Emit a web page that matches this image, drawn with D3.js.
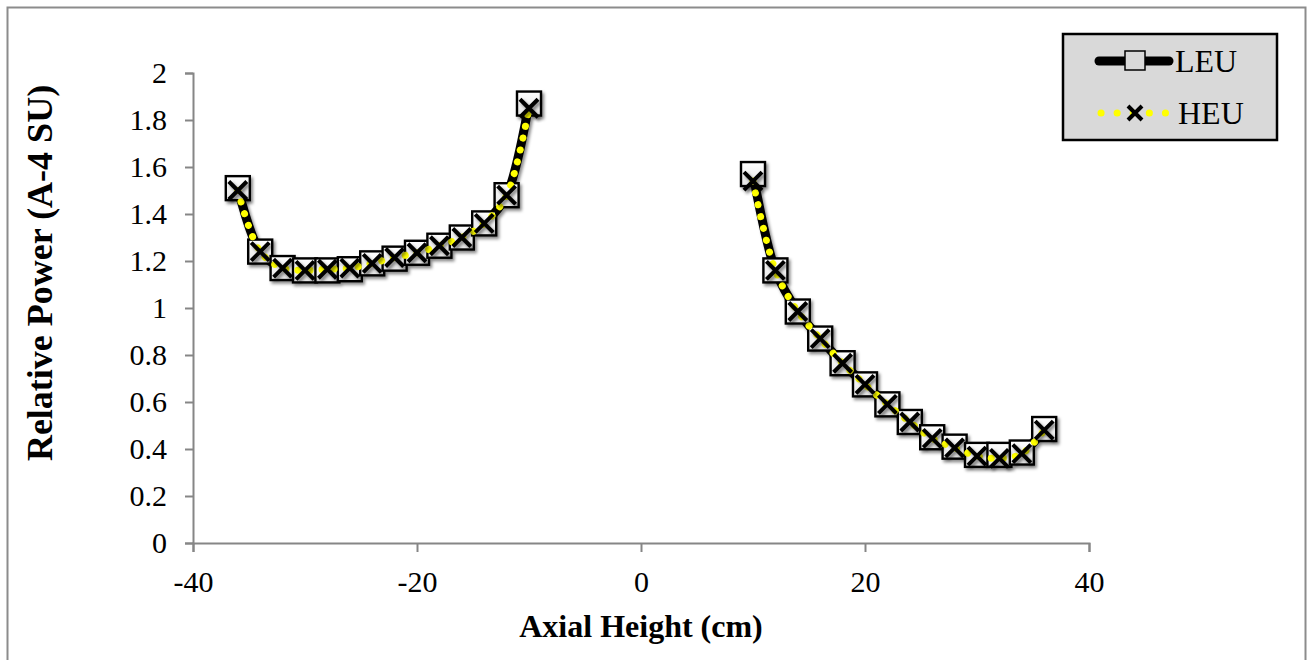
<!DOCTYPE html>
<html>
<head>
<meta charset="utf-8">
<script src="https://cdn.jsdelivr.net/npm/d3@7"></script>
<style>
  body { margin: 0; background: #fff; }
  text { font-family: "Liberation Serif", "Times New Roman", serif; }
</style>
</head>
<body>
<div id="chart"></div>
<script>
// axial positions (cm), the two fuel regions
var axialHeight = [-36, -34, -32, -30, -28, -26, -24, -22, -20, -18, -16, -14, -12, -10,
                   10, 12, 14, 16, 18, 20, 22, 24, 26, 28, 30, 32, 34, 36];
var leuPower = [1.51, 1.24, 1.17, 1.16, 1.16, 1.165, 1.19, 1.21, 1.235, 1.265, 1.30, 1.36, 1.48, 1.87,
                1.57, 1.16, 0.985, 0.87, 0.765, 0.675, 0.59, 0.515, 0.45, 0.41, 0.375, 0.375, 0.385, 0.485];
var heuPower = [1.50, 1.24, 1.17, 1.16, 1.165, 1.17, 1.19, 1.215, 1.235, 1.265, 1.30, 1.36, 1.48, 1.85,
                1.54, 1.16, 0.985, 0.87, 0.765, 0.675, 0.59, 0.515, 0.445, 0.405, 0.37, 0.36, 0.38, 0.48];
var xTicks = [-40, -20, 0, 20, 40];
var yTicks = [0, 0.2, 0.4, 0.6, 0.8, 1, 1.2, 1.4, 1.6, 1.8, 2];

var width = 1308, height = 660;
var margin = { left: 193, right: 1089, top: 73, bottom: 543 };

var svg = d3.select("#chart").append("svg")
    .attr("width", width)
    .attr("height", height);

var defs = svg.append("defs");
var shadow = defs.append("filter").attr("id", "shadow")
    .attr("x", "-30%").attr("y", "-30%").attr("width", "160%").attr("height", "160%");
shadow.append("feDropShadow")
    .attr("dx", 2).attr("dy", 2.5).attr("stdDeviation", 1.8)
    .attr("flood-color", "#000").attr("flood-opacity", 0.45);

var grad = defs.append("linearGradient").attr("id", "boxfill")
    .attr("x1", 0).attr("y1", 0).attr("x2", 0).attr("y2", 1);
grad.append("stop").attr("offset", "0%").attr("stop-color", "#ffffff");
grad.append("stop").attr("offset", "100%").attr("stop-color", "#e4e4e4");

// outer frame
svg.append("rect")
    .attr("x", 7.5).attr("y", 7.5)
    .attr("width", 1298).attr("height", 680)
    .attr("fill", "#fff")
    .attr("stroke", "#8c8c8c")
    .attr("stroke-width", 2);

var x = d3.scaleLinear().domain([-40, 40]).range([margin.left, margin.right]);
var y = d3.scaleLinear().domain([0, 2]).range([margin.bottom, margin.top]);

// axes
var yAxis = svg.append("g")
    .attr("transform", "translate(" + margin.left + ",0)")
    .call(d3.axisLeft(y).tickValues(yTicks).tickSize(8).tickPadding(18)
        .tickFormat(function (d) { return String(+d.toFixed(1)); }));
var xAxis = svg.append("g")
    .attr("transform", "translate(0," + margin.bottom + ")")
    .call(d3.axisBottom(x).tickValues(xTicks).tickSize(9).tickPadding(19)
        .tickFormat(function (d) { return String(d); }));

[xAxis, yAxis].forEach(function (ax) {
    ax.attr("font-family", "'Liberation Serif', serif").attr("font-size", 30);
    ax.select(".domain").attr("stroke", "#868686").attr("stroke-width", 2);
    ax.selectAll(".tick line").attr("stroke", "#868686").attr("stroke-width", 2);
    ax.selectAll(".tick text").attr("fill", "#000");
});

// titles
svg.append("text")
    .attr("x", 641).attr("y", 637)
    .attr("text-anchor", "middle")
    .style("font-size", "32px").style("font-weight", "bold")
    .text("Axial Height (cm)");

svg.append("text")
    .attr("transform", "translate(52,273) rotate(-90)")
    .attr("text-anchor", "middle")
    .style("font-size", "36px").style("font-weight", "bold")
    .text("Relative Power (A-4 SU)");

// series data split into the two regions
function segments(values) {
    var pts = axialHeight.map(function (h, i) { return { x: h, y: values[i] }; });
    return [pts.filter(function (p) { return p.x < 0; }),
            pts.filter(function (p) { return p.x > 0; })];
}
var leuSeg = segments(leuPower);
var heuSeg = segments(heuPower);

var line = d3.line()
    .x(function (d) { return x(d.x); })
    .y(function (d) { return y(d.y); })
    .curve(d3.curveCatmullRom.alpha(0.5));

var plot = svg.append("g").attr("filter", "url(#shadow)");

// LEU line
plot.selectAll(".leu-line").data(leuSeg).enter().append("path")
    .attr("class", "leu-line")
    .attr("d", line)
    .attr("fill", "none")
    .attr("stroke", "#000")
    .attr("stroke-width", 9)
    .attr("stroke-linejoin", "round")
    .attr("stroke-linecap", "round");

// LEU markers
var sq = 24;
plot.selectAll(".leu-pt").data(leuSeg[0].concat(leuSeg[1])).enter().append("rect")
    .attr("class", "leu-pt")
    .attr("x", function (d) { return x(d.x) - sq / 2; })
    .attr("y", function (d) { return y(d.y) - sq / 2; })
    .attr("width", sq).attr("height", sq)
    .attr("fill", "url(#boxfill)")
    .attr("stroke", "#000")
    .attr("stroke-width", 2.4);

// HEU line
svg.selectAll(".heu-line").data(heuSeg).enter().append("path")
    .attr("class", "heu-line")
    .attr("d", line)
    .attr("fill", "none")
    .attr("stroke", "#ffff00")
    .attr("stroke-width", 7)
    .attr("stroke-dasharray", "0.1 12")
    .attr("stroke-linecap", "round");

// HEU markers
var xs = 9;
var crossPath = "M" + (-xs) + "," + (-xs) + "L" + xs + "," + xs + "M" + (-xs) + "," + xs + "L" + xs + "," + (-xs);
svg.selectAll(".heu-pt").data(heuSeg[0].concat(heuSeg[1])).enter().append("path")
    .attr("class", "heu-pt")
    .attr("transform", function (d) { return "translate(" + x(d.x) + "," + y(d.y) + ")"; })
    .attr("d", crossPath)
    .attr("stroke", "#000")
    .attr("stroke-width", 4)
    .attr("filter", "url(#shadow)");

// legend
var legend = svg.append("g");
legend.append("rect")
    .attr("x", 1063).attr("y", 34)
    .attr("width", 214).attr("height", 106)
    .attr("fill", "#d9d9d9")
    .attr("stroke", "#000")
    .attr("stroke-width", 2.5);

legend.append("line")
    .attr("x1", 1099).attr("x2", 1169).attr("y1", 61).attr("y2", 61)
    .attr("stroke", "#000").attr("stroke-width", 9).attr("stroke-linecap", "round");
legend.append("rect")
    .attr("x", 1125).attr("y", 51).attr("width", 20).attr("height", 19)
    .attr("fill", "#d9d9d9").attr("stroke", "#000").attr("stroke-width", 1.5);
legend.append("text")
    .attr("x", 1175).attr("y", 72)
    .style("font-size", "32px")
    .text("LEU");

legend.append("line")
    .attr("x1", 1101).attr("x2", 1166).attr("y1", 113).attr("y2", 113)
    .attr("stroke", "#ffff00").attr("stroke-width", 7)
    .attr("stroke-dasharray", "0.1 16").attr("stroke-linecap", "round");
legend.append("path")
    .attr("transform", "translate(1135,113)")
    .attr("d", "M-7,-7L7,7M-7,7L7,-7")
    .attr("stroke", "#000").attr("stroke-width", 4);
legend.append("text")
    .attr("x", 1178).attr("y", 124)
    .style("font-size", "32px")
    .text("HEU");
</script>
</body>
</html>
